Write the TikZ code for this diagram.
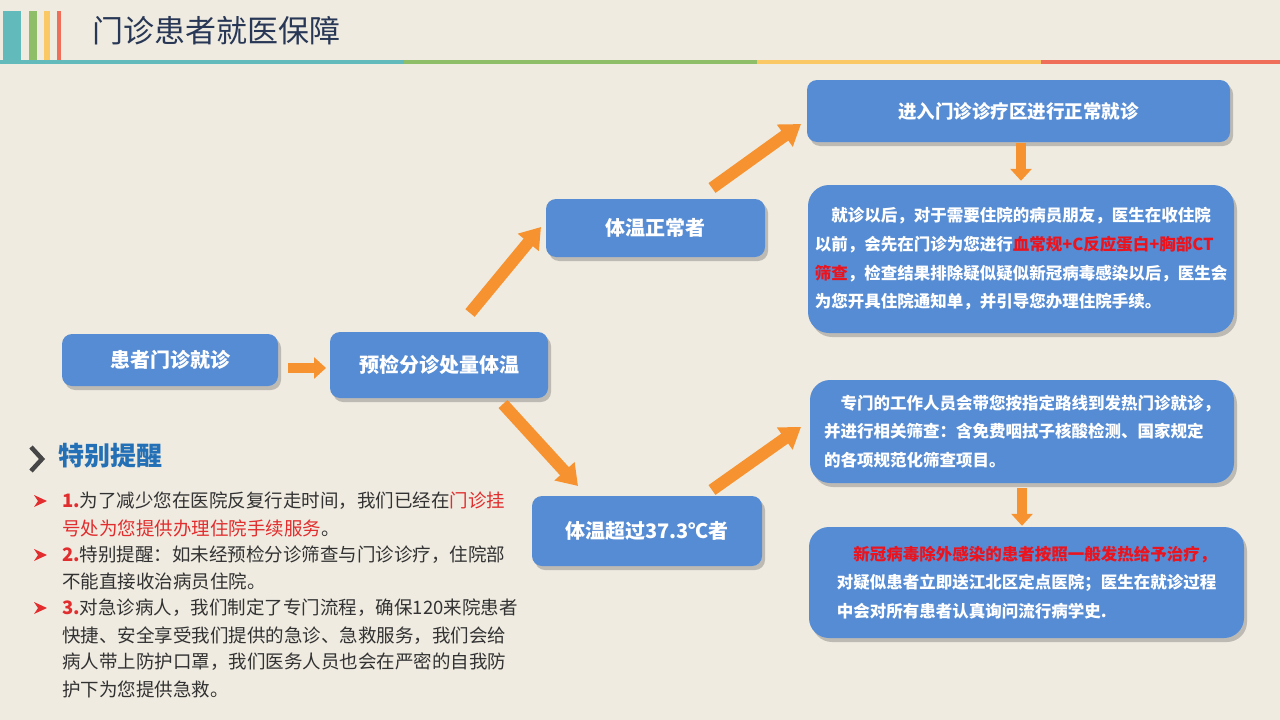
\documentclass[tikz,border=0pt]{standalone}
\usepackage{fontspec}
\newfontfamily\cjk{Noto Sans CJK SC}
\usetikzlibrary{arrows.meta,shadows,calc}
\definecolor{bg}{RGB}{239,235,225}
\definecolor{boxblue}{RGB}{86,140,212}
\definecolor{arrorange}{RGB}{247,146,48}
\definecolor{titlecol}{RGB}{40,55,85}
\definecolor{tipblue}{RGB}{35,112,182}
\definecolor{hiRed}{RGB}{235,20,30}
\definecolor{listred}{RGB}{225,45,45}
\definecolor{txtgray}{RGB}{50,50,50}
\definecolor{barteal}{RGB}{98,186,186}
\definecolor{bargreen}{RGB}{142,190,104}
\definecolor{baryellow}{RGB}{250,200,100}
\definecolor{barred}{RGB}{238,110,90}
\definecolor{chev}{RGB}{70,70,70}
\tikzset{
  box/.style={fill=boxblue, rounded corners=10pt, text=white, inner sep=0pt,
    drop shadow={shadow xshift=3pt,shadow yshift=-4pt,opacity=0.3,fill=black!70},
    font=\cjk\bfseries\fontsize{20}{24}\selectfont},
  bigbox/.style={box, rounded corners=21pt, align=left,
    font=\cjk\bfseries\fontsize{16.5}{28.7}\selectfont},
  orbig/.style={draw=arrorange, line width=12pt, -{Triangle[width=26pt,length=20pt]}},
  orsmall/.style={draw=arrorange, line width=10pt, -{Triangle[width=21pt,length=12pt]}},
  li/.style={anchor=west, inner sep=0pt, text=txtgray, font=\cjk\fontsize{18.5}{20}\selectfont},
  bul/.style={fill=listred}
}
\begin{document}
\begin{tikzpicture}[x=1pt,y=-1pt]
\useasboundingbox (0,0) rectangle (1280,720);
\fill[bg] (0,0) rectangle (1280,720);
% header bars
\fill[barteal] (3,11) rectangle (21,61);
\fill[bargreen] (29,11) rectangle (37,61);
\fill[baryellow] (44,11) rectangle (50,61);
\fill[barred] (57,11) rectangle (61,61);
\fill[barteal] (0,60) rectangle (404,64);
\fill[bargreen] (404,60) rectangle (757,64);
\fill[baryellow] (757,60) rectangle (1041,64);
\fill[barred] (1041,60) rectangle (1280,64);
\node[anchor=west, inner sep=0pt, text=titlecol, font=\cjk\fontsize{31}{31}\selectfont] (title) at (92,31) {门诊患者就医保障};

% boxes
\node[box, minimum width=216pt, minimum height=52pt] (b1) at (170,360) {患者门诊就诊};
\node[box, minimum width=218pt, minimum height=66pt] (b2) at (439,365) {预检分诊处量体温};
\node[box, minimum width=219pt, minimum height=58pt] (b3) at (655.5,228) {体温正常者};
\node[box, minimum width=230pt, minimum height=70pt] (b4) at (647,531) {体温超过37.3℃者};
\node[box, minimum width=423pt, minimum height=62pt, font=\cjk\bfseries\fontsize{18.5}{22}\selectfont] (b5) at (1018.5,111) {进入门诊诊疗区进行正常就诊};
\node[bigbox, minimum width=426pt, minimum height=148pt] (b6) at (1021,259)
 {\hspace*{1em}就诊以后，对于需要住院的病员朋友，医生在收住院\\
  以前，会先在门诊为您进行{\color{hiRed}血常规+C反应蛋白+胸部CT}\\
  {\color{hiRed}筛查}，检查结果排除疑似疑似新冠病毒感染以后，医生会\\
  为您开具住院通知单，并引导您办理住院手续。};
\node[bigbox, rounded corners=20pt, minimum width=424pt, minimum height=103pt] (b7) at (1022,431.5)
 {\hspace*{1em}专门的工作人员会带您按指定路线到发热门诊就诊，\\
  并进行相关筛查：含免费咽拭子核酸检测、国家规定\\
  的各项规范化筛查项目。};
\node[bigbox, rounded corners=20pt, minimum width=435pt, minimum height=111pt] (b8) at (1026.5,582.5)
 {\hspace*{1em}{\color{hiRed}新冠病毒除外感染的患者按照一般发热给予治疗，}\\
  对疑似患者立即送江北区定点医院；医生在就诊过程\\
  中会对所有患者认真询问流行病学史.};

% arrows
\coordinate (a1s) at (288,368);
\coordinate (a1e) at (326,368);
\draw[orsmall] (a1s) -- (a1e);
\coordinate (a2s) at (470,313);
\coordinate (a2e) at (541,227);
\draw[orbig] (a2s) -- (a2e);
\coordinate (a3s) at (503,404);
\coordinate (a3e) at (578,486);
\draw[orbig] (a3s) -- (a3e);
\coordinate (a4s) at (712,188);
\coordinate (a4e) at (801,124);
\draw[orbig] (a4s) -- (a4e);
\coordinate (a5s) at (712,490);
\coordinate (a5e) at (801,427);
\draw[orbig] (a5s) -- (a5e);
\draw[orsmall, shorten <=1pt, shorten >=4pt] (b5.south -| b6.north) -- (b6.north);
\draw[orsmall, shorten <=5pt, shorten >=1pt] (b7.south) -- (b7.south |- b8.north);

% reminder section
\draw[chev, line width=4.5pt] (31,447) -- (42,459) -- (31,471);
\node[anchor=west, inner sep=0pt, text=tipblue, font=\cjk\bfseries\fontsize{26}{26}\selectfont] (tip) at (58,456) {特别提醒};

\fill[bul] (34,495) -- (47,501) -- (34,507) -- (38,501) -- cycle;
\fill[bul] (34,549) -- (47,555) -- (34,561) -- (38,555) -- cycle;
\fill[bul] (34,602) -- (47,608) -- (34,614) -- (38,608) -- cycle;

\node[li] (l1) at (62,501) {{\color{listred}\bfseries 1.}为了减少您在医院反复行走时间，我们已经在{\color{listred}门诊挂}};
\node[li] (l2) at (62,528) {{\color{listred}号处为您提供办理住院手续服务}。};
\node[li] (l3) at (62,555) {{\color{listred}\bfseries 2.}特别提醒：如未经预检分诊筛查与门诊诊疗，住院部};
\node[li] (l4) at (62,581) {不能直接收治病员住院。};
\node[li] (l5) at (62,608) {{\color{listred}\bfseries 3.}对急诊病人，我们制定了专门流程，确保120来院患者};
\node[li] (l6) at (62,636) {快捷、安全享受我们提供的急诊、急救服务，我们会给};
\node[li] (l7) at (62,662) {病人带上防护口罩，我们医务人员也会在严密的自我防};
\node[li] (l8) at (62,689) {护下为您提供急救。};
\end{tikzpicture}
\end{document}
